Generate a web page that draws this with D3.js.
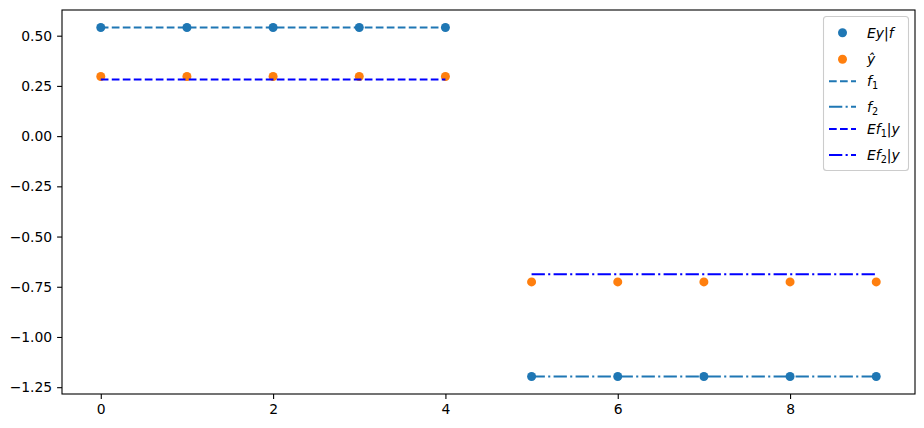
<!DOCTYPE html>
<html>
<head>
<meta charset="utf-8">
<script src="https://cdn.jsdelivr.net/npm/d3@7"></script>
<style>
  body { margin: 0; background: #fff; }
  svg text { font-family: "DejaVu Sans", sans-serif; }
</style>
</head>
<body>
<svg id="chart" width="924" height="428"></svg>
<script>
// data
const idxA = [0, 1, 2, 3, 4]
const idxB = [5, 6, 7, 8, 9]
const eyf = [0.541, 0.541, 0.541, 0.541, 0.541, -1.197, -1.197, -1.197, -1.197, -1.197]
const yhat = [0.297, 0.297, 0.297, 0.297, 0.297, -0.726, -0.726, -0.726, -0.726, -0.726]
const f1 = [0.541, 0.541, 0.541, 0.541, 0.541]
const f2 = [-1.197, -1.197, -1.197, -1.197, -1.197]
const ef1 = [0.282, 0.282, 0.282, 0.282, 0.282]
const ef2 = [-0.688, -0.688, -0.688, -0.688, -0.688]
const xTicks = [0, 2, 4, 6, 8]
const yTicks = [0.5, 0.25, 0, -0.25, -0.5, -0.75, -1.0, -1.25]

const svg = d3.select("#chart")
const margin = { top: 10, right: 9, bottom: 34, left: 62 }
const W = 924, H = 428
const fs = 13.9

const allIdx = idxA.concat(idxB)
const xPad = (d3.max(allIdx) - d3.min(allIdx)) * 0.05
const x = d3.scaleLinear()
  .domain([d3.min(allIdx) - xPad, d3.max(allIdx) + xPad])
  .range([margin.left, W - margin.right])

const allY = eyf.concat(yhat, f1, f2, ef1, ef2)
const yPad = (d3.max(allY) - d3.min(allY)) * 0.05
const y = d3.scaleLinear()
  .domain([d3.min(allY) - yPad, d3.max(allY) + yPad])
  .range([H - margin.bottom, margin.top])

const fmt = v => d3.format(".2f")(v).replace("-", "\u2212")

// axes
const xAxis = svg.append("g")
  .attr("transform", `translate(0,${H - margin.bottom})`)
  .call(d3.axisBottom(x).tickValues(xTicks).tickFormat(d3.format("d")).tickSize(4.9).tickPadding(4.9).tickSizeOuter(0))
const yAxis = svg.append("g")
  .attr("transform", `translate(${margin.left},0)`)
  .call(d3.axisLeft(y).tickValues(yTicks).tickFormat(fmt).tickSize(4.9).tickPadding(4.9).tickSizeOuter(0))

;[xAxis, yAxis].forEach(g => {
  g.select(".domain").remove()
  g.selectAll("line").attr("stroke", "#000").attr("stroke-width", 1.1)
  g.selectAll("text").attr("fill", "#000").style("font-size", fs + "px").style("font-family", "DejaVu Sans")
})

// frame
svg.append("rect")
  .attr("x", margin.left).attr("y", margin.top)
  .attr("width", W - margin.left - margin.right)
  .attr("height", H - margin.top - margin.bottom)
  .attr("fill", "none").attr("stroke", "#000").attr("stroke-width", 1.1)

const tabBlue = "#1f77b4", tabOrange = "#ff7f0e", pureBlue = "#0000ff"
const dashed = "7.7,3.3", dashdot = "13.3,3.3,2.1,3.3"

// scatter
svg.append("g").selectAll("circle")
  .data(eyf)
  .join("circle")
  .attr("cx", (d, i) => x(allIdx[i]))
  .attr("cy", d => y(d))
  .attr("r", 4.5)
  .attr("fill", tabBlue)

svg.append("g").selectAll("circle")
  .data(yhat)
  .join("circle")
  .attr("cx", (d, i) => x(allIdx[i]))
  .attr("cy", d => y(d))
  .attr("r", 4.5)
  .attr("fill", tabOrange)

// lines
const lines = [
  { xs: idxA, ys: f1, color: tabBlue, dash: dashed },
  { xs: idxB, ys: f2, color: tabBlue, dash: dashdot },
  { xs: idxA, ys: ef1, color: pureBlue, dash: dashed },
  { xs: idxB, ys: ef2, color: pureBlue, dash: dashdot }
]
lines.forEach(l => {
  const line = d3.line().x((d, i) => x(l.xs[i])).y(d => y(d))
  svg.append("path")
    .datum(l.ys)
    .attr("fill", "none")
    .attr("stroke", l.color)
    .attr("stroke-width", 2.1)
    .attr("stroke-dasharray", l.dash)
    .attr("d", line)
})

// legend
const lg = svg.append("g")
lg.append("rect")
  .attr("x", 823.5).attr("y", 16.5).attr("width", 85).attr("height", 154)
  .attr("rx", 3)
  .attr("fill", "#fff").attr("fill-opacity", 0.8)
  .attr("stroke", "#cccccc").attr("stroke-width", 1.1)

const hx0 = 829, hx1 = 856, tx = 867
const rows = [
  { y: 32.7, kind: "dot", color: tabBlue, parts: [["E", 1], ["y", 1], ["|", 0], ["f", 1]] },
  { y: 59.3, kind: "dot", color: tabOrange, parts: [["\u0177", 1]] },
  { y: 81.3, kind: "line", color: tabBlue, dash: dashed, parts: [["f", 1], ["1", 2]] },
  { y: 106.7, kind: "line", color: tabBlue, dash: dashdot, parts: [["f", 1], ["2", 2]] },
  { y: 129, kind: "line", color: pureBlue, dash: dashed, parts: [["E", 1], ["f", 1], ["1", 2], ["|", 0], ["y", 1]] },
  { y: 155, kind: "line", color: pureBlue, dash: dashdot, parts: [["E", 1], ["f", 1], ["2", 2], ["|", 0], ["y", 1]] }
]
rows.forEach(r => {
  if (r.kind === "dot") {
    lg.append("circle").attr("cx", (hx0 + hx1) / 2).attr("cy", r.y).attr("r", 4.5).attr("fill", r.color)
  } else {
    lg.append("line")
      .attr("x1", hx0).attr("x2", hx1).attr("y1", r.y).attr("y2", r.y)
      .attr("stroke", r.color).attr("stroke-width", 2.1).attr("stroke-dasharray", r.dash)
  }
  const t = lg.append("text")
    .attr("x", tx).attr("y", r.y + 5)
    .style("font-size", fs + "px").attr("fill", "#000")
  let sub = false
  r.parts.forEach(([s, k]) => {
    const ts = t.append("tspan").text(s)
    if (k === 1) ts.style("font-style", "italic")
    if (k === 2) {
      ts.style("font-size", (fs * 0.7) + "px").attr("dy", 3)
      sub = true
    } else if (sub) {
      ts.attr("dy", -3)
      sub = false
    }
  })
})
</script>
</body>
</html>
